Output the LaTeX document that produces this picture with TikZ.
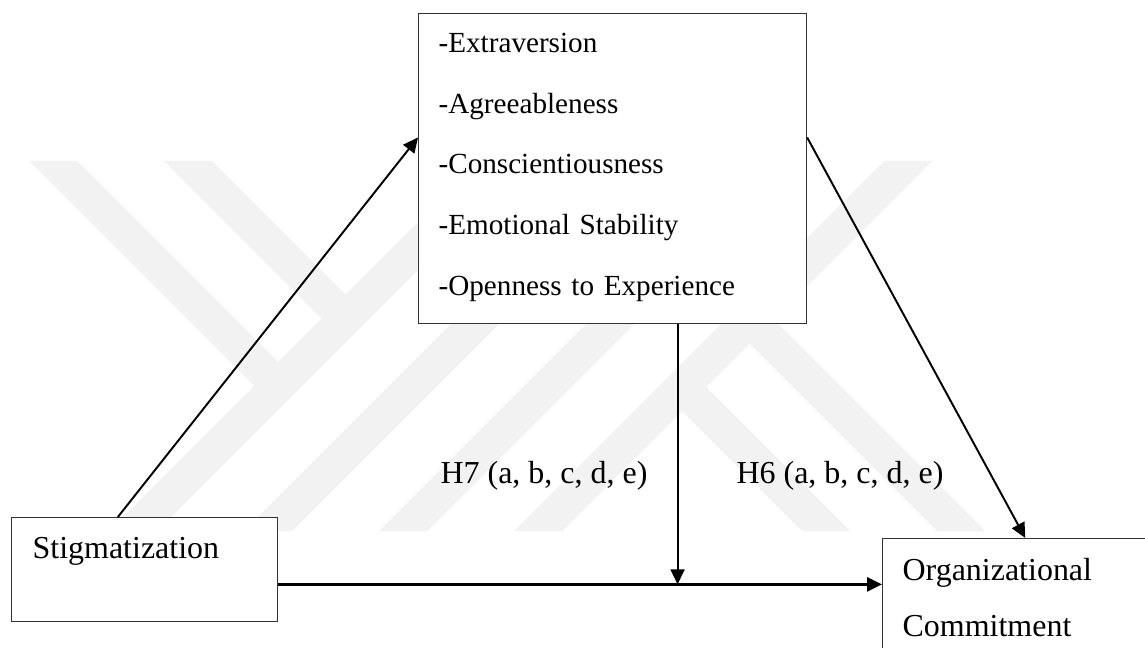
\documentclass[tikz,border=0pt]{standalone}
\usepackage{fontspec}
\setmainfont{Liberation Serif}
\usetikzlibrary{arrows.meta, calc}

\newcommand{\traitfont}{\fontsize{16.6}{34.5}\selectfont}
\newcommand{\boxfont}{\fontsize{18.2}{31.9}\selectfont}

\begin{document}
\begin{tikzpicture}[
    x=0.02cm,
    y=-0.02cm,
    box/.style={draw=black!80, line width=0.7pt, fill=white, inner xsep=0.4cm, inner ysep=0pt, align=left, anchor=north west},
    lbl/.style={font=\boxfont, anchor=base},
    wm/.style={fill=black!5},
    e/.style={line width=1.1pt, -{Triangle[length=0.3cm, width=0.28cm]}},
]
    \path[use as bounding box] (0, 0) rectangle (1145, 648);
    \clip (0, 0) rectangle (1145, 648);

    % watermark in the background
    \fill[wm] (479, 161) -- (527, 161) -- (157, 531) -- (109, 531) -- cycle;
    \fill[wm] (614, 161) -- (662, 161) -- (292, 531) -- (244, 531) -- cycle;
    \fill[wm] (749, 161) -- (797, 161) -- (427, 531) -- (379, 531) -- cycle;
    \fill[wm] (884, 161) -- (932, 161) -- (562, 531) -- (514, 531) -- cycle;
    \fill[wm] (29, 161) -- (77, 161) -- (290, 374) -- (266, 398) -- cycle;
    \fill[wm] (164, 161) -- (212, 161) -- (357.5, 306.5) -- (333.5, 330.5) -- cycle;
    \fill[wm] (670, 399) -- (694, 375) -- (850, 531) -- (802, 531) -- cycle;
    \fill[wm] (737.5, 331.5) -- (761.5, 307.5) -- (985, 531) -- (937, 531) -- cycle;

    \node[box, font=\traitfont, text width=6.96cm, text height=0.78cm, text depth=5.42cm] (traits) at (418, 13)
        {-Extraversion\\-Agreeableness\\-Conscientiousness\\-Emotional Stability\\-Openness to Experience};
    \node[box, font=\boxfont, inner xsep=0.42cm, text width=4.48cm, text height=0.82cm, text depth=1.26cm] (stig) at (11, 517)
        {Stigmatization};
    \node[box, font=\boxfont, text width=6cm, text height=0.84cm, text depth=2.5cm] (org) at (882, 538)
        {Organizational\\Commitment};

    \node[lbl] (h7) at (544, 483) {H7 (a, b, c, d, e)};
    \node[lbl] (h6) at (840, 483) {H6 (a, b, c, d, e)};

    \coordinate (sOut) at ($(stig.north west)!0.4!(stig.north east)$);
    \coordinate (tIn) at ($(traits.north west)!0.4!(traits.south west)$);
    \coordinate (tOut) at ($(traits.north east)!0.4!(traits.south east)$);
    \coordinate (oIn) at ($(org.north west)!0.42!(org.north east)$);
    \coordinate (sRight) at ($(stig.north east)!0.64!(stig.south east)$);
    \coordinate (tDown) at ($(traits.south west)!0.667!(traits.south east)$);
    \coordinate (join) at (tDown |- sRight);

    \draw[e] (sOut) -- (tIn);
    \draw[e] (tOut) -- (oIn);
    \draw[e, line width=1.6pt] (sRight) -- (sRight -| org.west);
    \draw[e] (tDown) -- (join);
\end{tikzpicture}
\end{document}
